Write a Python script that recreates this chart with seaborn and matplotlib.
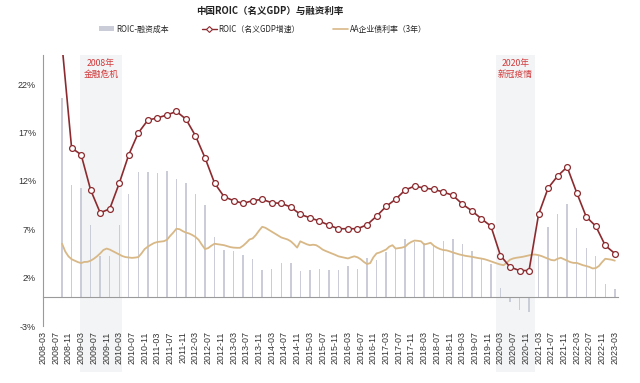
import numpy as np
import pandas as pd
import matplotlib
matplotlib.use("Agg")
import matplotlib.pyplot as plt
import matplotlib.transforms as mtransforms
from matplotlib.patches import Patch, Rectangle
from matplotlib.lines import Line2D
import seaborn as sns

# ---------------- data ----------------
title = "中国ROIC（名义GDP）与融资利率"
series_names = ["ROIC-融资成本", "ROIC（名义GDP增速）", "AA企业债利率（3年）"]
events = ["2008年\n金融危机", "2020年\n新冠疫情"]
event_spans = [("2009-03", "2010-04"), ("2020-02", "2021-02")]

# quarterly, 2008-09 .. 2023-03
quarter_start = "2008-09"
roic = [26.0, 15.4,
        14.7, 11.05, 8.7, 9.1,
        11.75, 14.7, 16.95, 18.27,
        18.5, 18.8, 19.17, 18.37,
        16.65, 14.38, 11.77, 10.36,
        9.95, 9.67, 9.95, 10.08,
        9.74, 9.67, 9.29, 8.53,
        8.19, 7.84, 7.42, 7.05,
        7.05, 7.05, 7.46, 8.35,
        9.35, 10.1, 11.05, 11.46,
        11.25, 11.12, 10.84, 10.5,
        9.6, 8.9, 8.08, 7.32,
        4.28, 3.1, 2.73, 2.73,
        8.53, 11.25, 12.5, 13.43,
        10.78, 8.29, 7.32, 5.32,
        4.49]
spread = [20.6, 11.57,
          11.3, 7.39, 4.2, 4.2,
          7.39, 10.6, 12.95, 12.95,
          12.85, 13.0, 12.15, 11.74,
          10.6, 9.5, 6.2, 4.9,
          4.8, 4.38, 3.94, 2.83,
          2.9, 3.52, 3.52, 2.73,
          2.8, 2.9, 2.83, 2.76,
          3.18, 2.93, 4.04, 3.87,
          4.62, 4.97, 6.0, 5.66,
          5.6, 5.42, 5.76, 6.0,
          5.49, 4.8, 3.94, 3.45,
          0.93, -0.56, -1.39, -1.6,
          4.2, 7.25, 8.53, 9.56,
          7.15, 5.07, 4.28, 1.38,
          0.83]

# monthly, 2008-09 .. 2023-03
month_start = "2008-09"
aa_rate = [5.5, 4.7, 4.2, 3.9,
           3.75, 3.6, 3.5, 3.62, 3.63, 3.75, 3.95, 4.2, 4.5, 4.85, 5.0, 4.9,
           4.73, 4.56, 4.4, 4.22, 4.12, 4.08, 4.04, 4.07, 4.12, 4.5, 4.95, 5.2,
           5.4, 5.58, 5.68, 5.72, 5.76, 5.9, 6.3, 6.65, 7.05, 7.0, 6.8, 6.65,
           6.56, 6.4, 6.2, 5.9, 5.4, 4.95, 5.05, 5.3, 5.5, 5.45, 5.4, 5.35,
           5.25, 5.15, 5.1, 5.08, 5.08, 5.3, 5.6, 5.94, 6.05, 6.4, 6.85, 7.25,
           7.15, 6.95, 6.75, 6.55, 6.35, 6.15, 6.05, 5.94, 5.75, 5.45, 5.1, 5.75,
           5.6, 5.45, 5.35, 5.4, 5.35, 5.15, 4.9, 4.75, 4.62, 4.5, 4.35, 4.2,
           4.12, 4.05, 3.98, 4.1, 4.2, 4.1, 3.9, 3.62, 3.4, 3.5, 4.1, 4.5,
           4.6, 4.75, 4.9, 5.2, 5.35, 5.0, 5.05, 5.1, 5.2, 5.5, 5.7, 5.83,
           5.8, 5.75, 5.42, 5.5, 5.6, 5.3, 5.1, 4.95, 4.85, 4.82, 4.72, 4.6,
           4.5, 4.4, 4.32, 4.25, 4.2, 4.15, 4.08, 4.02, 3.97, 3.9, 3.8, 3.68,
           3.55, 3.45, 3.35, 3.28, 3.55, 3.85, 3.98, 4.05, 4.1, 4.15, 4.22, 4.3,
           4.38, 4.38, 4.32, 4.22, 4.08, 3.95, 3.82, 3.78, 3.95, 4.05, 3.9, 3.76,
           3.6, 3.52, 3.52, 3.4, 3.28, 3.2, 3.1, 2.95, 2.98, 3.2, 3.6, 3.95,
           3.9, 3.85, 3.75]

tick_start, tick_end, tick_step = "2008-03", "2023-03", 4
y_ticks = [-3, 2, 7, 12, 17, 22]

# ---------------- helpers ----------------
def ym(p):
    y, m = p.split("-")
    return int(y) * 12 + int(m) - 1

BASE = ym(tick_start)
def midx(p):
    return ym(p) - BASE

def label(i):
    t = BASE + i
    return f"{t // 12}-{t % 12 + 1:02d}"

q0 = midx(quarter_start)
m0 = midx(month_start)
dfq = pd.DataFrame({"m": [q0 + 3 * i for i in range(len(roic))], "roic": roic, "spread": spread})
dfm = pd.DataFrame({"m": [m0 + i for i in range(len(aa_rate))], "aa": aa_rate})
tick_pos = list(range(0, midx(tick_end) + 1, tick_step))
tick_lbl = [label(i) for i in tick_pos]

# ---------------- style ----------------
sns.set_style("white")
plt.rcParams["font.family"] = ["Liberation Sans", "Noto Sans CJK SC"]
plt.rcParams["axes.unicode_minus"] = False

BAR_C = "#cacdd8"
ROIC_C = "#8c2b2f"
AA_C = "#d8b887"
SHADE_C = "#f3f4f5"
EVENT_C = "#d2393b"
GRAY = "#9a9a9a"
CJK = ["Noto Sans CJK SC", "Liberation Sans"]

fig = plt.figure(figsize=(6.4, 3.83), dpi=100)
ax = fig.add_axes([0.0672, 0.1488, 0.8984, 0.7076])

# event shading (extends below the axes over the tick labels)
trans = mtransforms.blended_transform_factory(ax.transData, ax.transAxes)
for (a, b), txt in zip(event_spans, events):
    x0, x1 = midx(a) - 0.5, midx(b)
    ax.add_patch(Rectangle((x0, -0.168), x1 - x0, 1.168, transform=trans,
                           facecolor=SHADE_C, edgecolor="none", zorder=0.5, clip_on=False))
    ax.text((x0 + x1) / 2, 0.985, txt, transform=trans, ha="center", va="top",
            fontsize=6.3, color=EVENT_C, linespacing=1.25, zorder=5, family=CJK)

sns.barplot(data=dfq, x="m", y="spread", native_scale=True, width=0.15,
            color=BAR_C, saturation=1, linewidth=0, errorbar=None, ax=ax, zorder=2)
sns.lineplot(data=dfm, x="m", y="aa", color=AA_C, linewidth=1.3, ax=ax, zorder=3)
sns.lineplot(data=dfq, x="m", y="roic", color=ROIC_C, linewidth=1.2, marker="o",
             markersize=4.2, markerfacecolor="white", markeredgecolor=ROIC_C,
             markeredgewidth=0.9, ax=ax, zorder=4)

ax.set_xlim(0, 181)
ax.set_ylim(-3, 25)
ax.set_xticks(tick_pos, tick_lbl)
ax.set_yticks(y_ticks, [f"{v}%" for v in y_ticks])
ax.set_xlabel("")
ax.set_ylabel("")

for s in ["top", "right"]:
    ax.spines[s].set_visible(False)
ax.spines["bottom"].set_position(("data", 0))
ax.spines["bottom"].set_color(GRAY)
ax.spines["left"].set_color(GRAY)
ax.spines["bottom"].set_linewidth(0.8)
ax.spines["left"].set_linewidth(0.8)
ax.tick_params(axis="x", direction="out", length=2.2, width=0.6, color=GRAY, pad=22.5,
               labelrotation=90, labelsize=6.4, labelcolor="#333333")
ax.tick_params(axis="y", direction="out", length=2, width=0.6, color=GRAY, pad=3,
               labelsize=6.5, labelcolor="#333333")
ax.set_facecolor("white")

fig.text(270 / 640, 1 - 11 / 383, title, ha="center", va="center", fontsize=6.8,
         fontweight="bold", color="#222222", family=CJK)

handles = [Patch(facecolor=BAR_C, edgecolor="none"),
           Line2D([], [], color=ROIC_C, lw=1.0, marker="D", markersize=3,
                  markerfacecolor="white", markeredgecolor=ROIC_C, markeredgewidth=0.8),
           Line2D([], [], color=AA_C, lw=1.2)]
fig.legend(handles, series_names, loc="center", bbox_to_anchor=(263 / 640, 1 - 29 / 383),
           ncol=3, frameon=False, handlelength=1.9, handleheight=0.6,
           handletextpad=0.2, columnspacing=4.2,
           prop={"family": CJK, "size": 5.7})

fig.savefig("out.png", dpi=100, facecolor="white")
